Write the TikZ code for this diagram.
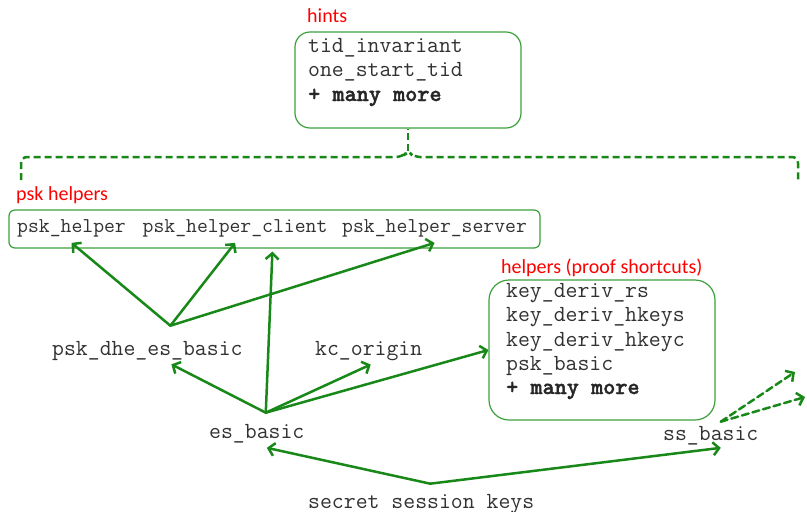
\documentclass[tikz,border=0pt]{standalone}
\usepackage{fontspec}
\newfontfamily\labelfont{Carlito}
\newfontfamily\heavymono{lmmonolt10-bold}[Extension=.otf, FakeBold=1.6]
\usetikzlibrary{arrows.meta,calc}
\definecolor{linkgreen}{RGB}{24,136,24}
\definecolor{boxgreen}{RGB}{60,160,60}
\definecolor{codegray}{RGB}{50,50,50}
\tikzset{
  code/.style={font=\ttfamily\fontsize{23.1}{26}\selectfont, text=codegray, inner sep=0pt, anchor=base west},
  codeb/.style={code, font=\heavymono\fontsize{23.1}{26}\selectfont, text=black!85},
  codesm/.style={code, font=\ttfamily\fontsize{21.1}{24}\selectfont, inner ysep=6pt},
  tag/.style={font=\labelfont\fontsize{20}{24}\selectfont, text=red, inner sep=0pt, anchor=base west},
  group/.style={draw=boxgreen, line width=1.2pt, fill=white},
  link/.style={draw=linkgreen, line width=2.5pt, line cap=round, -{Straight Barb[length=6pt,width=13pt,line width=2.5pt]}},
  hintline/.style={draw=linkgreen, line width=2.5pt, dash pattern=on 7pt off 4pt},
}
\begin{document}
\begin{tikzpicture}[x=1pt,y=-1pt]
\useasboundingbox (0,0) rectangle (807,512);

% hint group
\node[tag] (hintstag) at (307,22) {hints};
\node[group, rounded corners=15pt, minimum width=226pt, minimum height=96pt] (hintsbox) at (408,80) {};
\node[code] (tid) at (308,52) {tid\_invariant};
\node[code] (ost) at (308,76.5) {one\_start\_tid};
\node[codeb] (hmore) at (308,101) {+ many more};

% brace from the hints down over both helper groups
\coordinate (braceL) at (21,180);
\coordinate (braceR) at (798,180);
\draw[hintline, rounded corners=6pt] (braceL) -- (21,157) -- (402,157) -- (408,151) -- (414,157) -- (798,157) -- (braceR);
\draw[hintline] (408,151) -- (hintsbox.south);

% psk helpers
\node[tag] (psktag) at (16,200) {psk helpers};
\node[group, rounded corners=6pt, minimum width=531pt, minimum height=38pt] (pskbox) at (274.5,229) {};
\node[codesm] (ph) at (17,232) {psk\_helper};
\node[codesm] (phc) at (142.5,232) {psk\_helper\_client};
\node[codesm] (phs) at (342,232) {psk\_helper\_server};

% proof shortcut helpers
\node[tag] (helptag) at (501,273) {helpers (proof shortcuts)};
\node[group, rounded corners=20pt, minimum width=226pt, minimum height=140pt] (helpbox) at (602,350) {};
\node[code] (kdrs) at (506,297) {key\_deriv\_rs};
\node[code] (kdhs) at (506,321.5) {key\_deriv\_hkeys};
\node[code] (kdhc) at (506,346) {key\_deriv\_hkeyc};
\node[code] (pskb) at (506,370) {psk\_basic};
\node[codeb] (pmore) at (506,394) {+ many more};

% lemmas
\node[code] (dhe) at (52,355) {psk\_dhe\_es\_basic};
\node[code] (kc) at (315,355) {kc\_origin};
\node[code] (es) at (209,438) {es\_basic};
\node[code] (ss) at (663,440) {ss\_basic};
\node[code] (keys) at (308,508) {secret session keys};

% junction points of the arrow fans
\coordinate (dheapex) at ($(dhe.north)+(23,-15)$);
\coordinate (esapex) at ($(es.north)+(9,-11)$);
\coordinate (keysapex) at ($(keys.north)+(9,-10)$);
\coordinate (ssapex) at ($(ss.north)+(10,-4)$);
\coordinate (ssoutA) at (795,372);
\coordinate (ssoutB) at (805,397);

% psk_dhe_es_basic uses the psk helpers
\draw[link] (dheapex) -- (ph.south);
\draw[link] (dheapex) -- (phc.south);
\draw[link] (dheapex) -- (phs.south);

% es_basic uses
\draw[link] (esapex) -- ($(dhe.south)+(24,4)$);
\draw[link] (esapex) -- ($(kc.south)+(2,4)$);
\draw[link] (esapex) -- (helpbox.west);
\draw[link] (esapex) -- ($(pskbox.south west)+(264,3)$);

% secret session keys
\draw[link] (keysapex) -- ($(es.south)+(10,5)$);
\draw[link] (keysapex) -- ($(ss.south)+(10,3)$);

% ss_basic continues off to the right
\draw[link, dash pattern=on 7pt off 4pt] (ssapex) -- (ssoutA);
\draw[link, dash pattern=on 7pt off 4pt] (ssapex) -- (ssoutB);
\end{tikzpicture}
\end{document}
